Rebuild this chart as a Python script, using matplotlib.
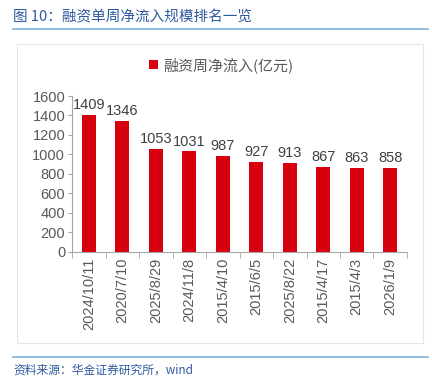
import matplotlib
matplotlib.use("Agg")
import matplotlib.pyplot as plt
from matplotlib.patches import Rectangle
from matplotlib.lines import Line2D

plt.rcParams['font.family'] = ['Liberation Sans', 'Noto Sans CJK SC', 'DejaVu Sans']

dates = ["2024/10/11", "2020/7/10", "2025/8/29", "2024/11/8", "2015/4/10",
         "2015/6/5", "2025/8/22", "2015/4/17", "2015/4/3", "2026/1/9"]
inflow = [1409, 1346, 1053, 1031, 987, 927, 913, 867, 863, 858]
yticks = [0, 200, 400, 600, 800, 1000, 1200, 1400, 1600]

red = "#D7000F"
gray = "#595959"
blue = "#2F5A9E"
cjk = ['Noto Sans CJK SC', 'DejaVu Sans']

fig = plt.figure(figsize=(4.32, 3.81), dpi=100)

# title, rules and frame
fig.text(0.03, 0.955, "图 10：融资单周净流入规模排名一览", color=blue, fontsize=10.5,
         family=cjk, va="center", ha="left")
fig.add_artist(Line2D([0.03, 0.99], [0.924, 0.924], color="#7FB2D9", lw=1.2))
fig.add_artist(Rectangle((0.04, 0.10), 0.94, 0.785, fill=False, ec="#E6E6E6", lw=0.8))
fig.add_artist(Line2D([0.03, 0.99], [0.063, 0.063], color="#7FB2D9", lw=1.2))
fig.text(0.03, 0.028, "资料来源：华金证券研究所，wind", color=blue, fontsize=8.5,
         style="italic", family=cjk, va="center", ha="left")

ax = fig.add_axes([0.167, 0.339, 0.775, 0.409])
x = range(len(dates))
ax.bar(x, inflow, width=0.42, color=red, label="融资周净流入(亿元)")
for xi, v in zip(x, inflow):
    ax.text(xi, v + 30, str(v), ha="center", va="bottom", fontsize=10.5, color="#404040")

ax.set_xlim(-0.5, len(dates) - 0.5)
ax.set_ylim(0, 1600)
ax.set_yticks(yticks)
ax.set_yticklabels([str(t) for t in yticks], fontsize=10.5, color=gray)
ax.set_xticks(list(x))
ax.set_xticklabels(dates, rotation=90, fontsize=10.5, color=gray)
ax.tick_params(axis="x", length=0, pad=4)
ax.set_xticks([i + 0.5 for i in range(-1, len(dates))], minor=True)
ax.tick_params(axis="x", which="minor", length=4, color="#A6A6A6")
ax.tick_params(axis="y", length=3, color="#A6A6A6", pad=2)
for s in ["top", "right"]:
    ax.spines[s].set_visible(False)
ax.spines["left"].set_color("#A6A6A6")
ax.spines["bottom"].set_color("#A6A6A6")

leg = ax.legend(loc="center", bbox_to_anchor=(0.445, 1.2), frameon=False,
                prop={'family': cjk, 'size': 10.8},
                handlelength=0.6, handleheight=0.6, handletextpad=0.3)
for t in leg.get_texts():
    t.set_color(gray)

fig.savefig("out.png", dpi=100)
